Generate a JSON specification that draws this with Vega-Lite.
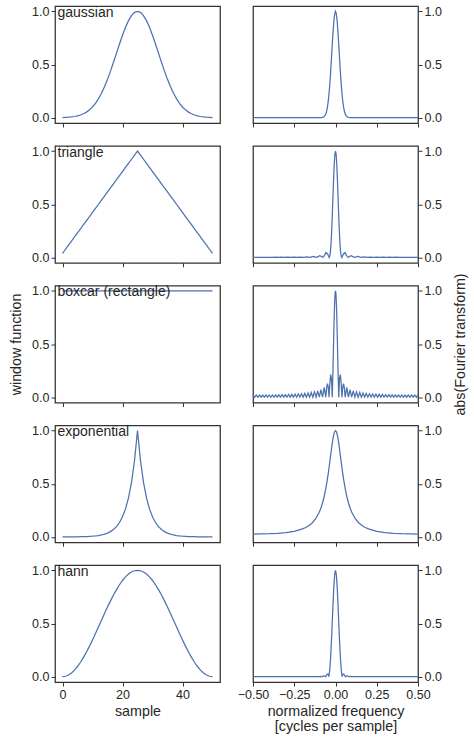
{
  "$schema": "https://vega.github.io/schema/vega-lite/v6.json",
  "padding": {"left": 8, "top": 4, "right": 4, "bottom": 4},
  "datasets": {
    "gaussian_window": [
      {"sample":0,"value":0.0017},{"sample":1,"value":0.0028},{"sample":2,"value":0.0045},{"sample":3,"value":0.0072},{"sample":4,"value":0.0111},
      {"sample":5,"value":0.0169},{"sample":6,"value":0.0251},{"sample":7,"value":0.0367},{"sample":8,"value":0.0524},{"sample":9,"value":0.0734},
      {"sample":10,"value":0.1007},{"sample":11,"value":0.1353},{"sample":12,"value":0.1783},{"sample":13,"value":0.2301},{"sample":14,"value":0.2909},
      {"sample":15,"value":0.3604},{"sample":16,"value":0.4376},{"sample":17,"value":0.5205},{"sample":18,"value":0.6065},{"sample":19,"value":0.6926},
      {"sample":20,"value":0.7748},{"sample":21,"value":0.8494},{"sample":22,"value":0.9123},{"sample":23,"value":0.96},{"sample":24,"value":0.9899},
      {"sample":25,"value":1},
      {"sample":26,"value":0.9899},{"sample":27,"value":0.96},{"sample":28,"value":0.9123},{"sample":29,"value":0.8494},{"sample":30,"value":0.7748},
      {"sample":31,"value":0.6926},{"sample":32,"value":0.6065},{"sample":33,"value":0.5205},{"sample":34,"value":0.4376},{"sample":35,"value":0.3604},
      {"sample":36,"value":0.2909},{"sample":37,"value":0.2301},{"sample":38,"value":0.1783},{"sample":39,"value":0.1353},{"sample":40,"value":0.1007},
      {"sample":41,"value":0.0734},{"sample":42,"value":0.0524},{"sample":43,"value":0.0367},{"sample":44,"value":0.0251},{"sample":45,"value":0.0169},
      {"sample":46,"value":0.0111},{"sample":47,"value":0.0072},{"sample":48,"value":0.0045},{"sample":49,"value":0.0028},{"sample":50,"value":0.0017}
    ],
    "triangle_window": [
      {"sample":0,"value":0.0385},{"sample":1,"value":0.0769},{"sample":2,"value":0.1154},{"sample":3,"value":0.1538},{"sample":4,"value":0.1923},
      {"sample":5,"value":0.2308},{"sample":6,"value":0.2692},{"sample":7,"value":0.3077},{"sample":8,"value":0.3462},{"sample":9,"value":0.3846},
      {"sample":10,"value":0.4231},{"sample":11,"value":0.4615},{"sample":12,"value":0.5},{"sample":13,"value":0.5385},{"sample":14,"value":0.5769},
      {"sample":15,"value":0.6154},{"sample":16,"value":0.6538},{"sample":17,"value":0.6923},{"sample":18,"value":0.7308},{"sample":19,"value":0.7692},
      {"sample":20,"value":0.8077},{"sample":21,"value":0.8462},{"sample":22,"value":0.8846},{"sample":23,"value":0.9231},{"sample":24,"value":0.9615},
      {"sample":25,"value":1},
      {"sample":26,"value":0.9615},{"sample":27,"value":0.9231},{"sample":28,"value":0.8846},{"sample":29,"value":0.8462},{"sample":30,"value":0.8077},
      {"sample":31,"value":0.7692},{"sample":32,"value":0.7308},{"sample":33,"value":0.6923},{"sample":34,"value":0.6538},{"sample":35,"value":0.6154},
      {"sample":36,"value":0.5769},{"sample":37,"value":0.5385},{"sample":38,"value":0.5},{"sample":39,"value":0.4615},{"sample":40,"value":0.4231},
      {"sample":41,"value":0.3846},{"sample":42,"value":0.3462},{"sample":43,"value":0.3077},{"sample":44,"value":0.2692},{"sample":45,"value":0.2308},
      {"sample":46,"value":0.1923},{"sample":47,"value":0.1538},{"sample":48,"value":0.1154},{"sample":49,"value":0.0769},{"sample":50,"value":0.0385}
    ],
    "boxcar_window": [
      {"sample":0,"value":1},{"sample":1,"value":1},{"sample":2,"value":1},{"sample":3,"value":1},{"sample":4,"value":1},
      {"sample":5,"value":1},{"sample":6,"value":1},{"sample":7,"value":1},{"sample":8,"value":1},{"sample":9,"value":1},
      {"sample":10,"value":1},{"sample":11,"value":1},{"sample":12,"value":1},{"sample":13,"value":1},{"sample":14,"value":1},
      {"sample":15,"value":1},{"sample":16,"value":1},{"sample":17,"value":1},{"sample":18,"value":1},{"sample":19,"value":1},
      {"sample":20,"value":1},{"sample":21,"value":1},{"sample":22,"value":1},{"sample":23,"value":1},{"sample":24,"value":1},
      {"sample":25,"value":1},
      {"sample":26,"value":1},{"sample":27,"value":1},{"sample":28,"value":1},{"sample":29,"value":1},{"sample":30,"value":1},
      {"sample":31,"value":1},{"sample":32,"value":1},{"sample":33,"value":1},{"sample":34,"value":1},{"sample":35,"value":1},
      {"sample":36,"value":1},{"sample":37,"value":1},{"sample":38,"value":1},{"sample":39,"value":1},{"sample":40,"value":1},
      {"sample":41,"value":1},{"sample":42,"value":1},{"sample":43,"value":1},{"sample":44,"value":1},{"sample":45,"value":1},
      {"sample":46,"value":1},{"sample":47,"value":1},{"sample":48,"value":1},{"sample":49,"value":1},{"sample":50,"value":1}
    ],
    "exponential_window": [
      {"sample":0,"value":0.0002},{"sample":1,"value":0.0003},{"sample":2,"value":0.0005},{"sample":3,"value":0.0007},{"sample":4,"value":0.0009},
      {"sample":5,"value":0.0013},{"sample":6,"value":0.0018},{"sample":7,"value":0.0025},{"sample":8,"value":0.0035},{"sample":9,"value":0.0048},
      {"sample":10,"value":0.0067},{"sample":11,"value":0.0094},{"sample":12,"value":0.0131},{"sample":13,"value":0.0183},{"sample":14,"value":0.0256},
      {"sample":15,"value":0.0357},{"sample":16,"value":0.0498},{"sample":17,"value":0.0695},{"sample":18,"value":0.097},{"sample":19,"value":0.1353},
      {"sample":20,"value":0.1889},{"sample":21,"value":0.2636},{"sample":22,"value":0.3679},{"sample":23,"value":0.5134},{"sample":24,"value":0.7165},
      {"sample":25,"value":1},
      {"sample":26,"value":0.7165},{"sample":27,"value":0.5134},{"sample":28,"value":0.3679},{"sample":29,"value":0.2636},{"sample":30,"value":0.1889},
      {"sample":31,"value":0.1353},{"sample":32,"value":0.097},{"sample":33,"value":0.0695},{"sample":34,"value":0.0498},{"sample":35,"value":0.0357},
      {"sample":36,"value":0.0256},{"sample":37,"value":0.0183},{"sample":38,"value":0.0131},{"sample":39,"value":0.0094},{"sample":40,"value":0.0067},
      {"sample":41,"value":0.0048},{"sample":42,"value":0.0035},{"sample":43,"value":0.0025},{"sample":44,"value":0.0018},{"sample":45,"value":0.0013},
      {"sample":46,"value":0.0009},{"sample":47,"value":0.0007},{"sample":48,"value":0.0005},{"sample":49,"value":0.0003},{"sample":50,"value":0.0002}
    ],
    "hann_window": [
      {"sample":0,"value":0},{"sample":1,"value":0.0039},{"sample":2,"value":0.0157},{"sample":3,"value":0.0351},{"sample":4,"value":0.0618},
      {"sample":5,"value":0.0955},{"sample":6,"value":0.1355},{"sample":7,"value":0.1813},{"sample":8,"value":0.2321},{"sample":9,"value":0.2871},
      {"sample":10,"value":0.3455},{"sample":11,"value":0.4063},{"sample":12,"value":0.4686},{"sample":13,"value":0.5314},{"sample":14,"value":0.5937},
      {"sample":15,"value":0.6545},{"sample":16,"value":0.7129},{"sample":17,"value":0.7679},{"sample":18,"value":0.8187},{"sample":19,"value":0.8645},
      {"sample":20,"value":0.9045},{"sample":21,"value":0.9382},{"sample":22,"value":0.9649},{"sample":23,"value":0.9843},{"sample":24,"value":0.9961},
      {"sample":25,"value":1},
      {"sample":26,"value":0.9961},{"sample":27,"value":0.9843},{"sample":28,"value":0.9649},{"sample":29,"value":0.9382},{"sample":30,"value":0.9045},
      {"sample":31,"value":0.8645},{"sample":32,"value":0.8187},{"sample":33,"value":0.7679},{"sample":34,"value":0.7129},{"sample":35,"value":0.6545},
      {"sample":36,"value":0.5937},{"sample":37,"value":0.5314},{"sample":38,"value":0.4686},{"sample":39,"value":0.4063},{"sample":40,"value":0.3455},
      {"sample":41,"value":0.2871},{"sample":42,"value":0.2321},{"sample":43,"value":0.1813},{"sample":44,"value":0.1355},{"sample":45,"value":0.0955},
      {"sample":46,"value":0.0618},{"sample":47,"value":0.0351},{"sample":48,"value":0.0157},{"sample":49,"value":0.0039},{"sample":50,"value":0}
    ],
    "gaussian_ft": [
      {"frequency":-0.5,"amplitude":0},{"frequency":-0.1,"amplitude":0.0001},{"frequency":-0.09,"amplitude":0.0004},{"frequency":-0.08,"amplitude":0.002},
      {"frequency":-0.075,"amplitude":0.0043},{"frequency":-0.07,"amplitude":0.0087},{"frequency":-0.065,"amplitude":0.0168},{"frequency":-0.06,"amplitude":0.0307},
      {"frequency":-0.055,"amplitude":0.0536},{"frequency":-0.05,"amplitude":0.0891},{"frequency":-0.045,"amplitude":0.1411},{"frequency":-0.04,"amplitude":0.2128},
      {"frequency":-0.035,"amplitude":0.3058},{"frequency":-0.03,"amplitude":0.4188},{"frequency":-0.025,"amplitude":0.5463},{"frequency":-0.02,"amplitude":0.6792},
      {"frequency":-0.015,"amplitude":0.8044},{"frequency":-0.01,"amplitude":0.9078},{"frequency":-0.005,"amplitude":0.9761},{"frequency":0,"amplitude":1},
      {"frequency":0.005,"amplitude":0.9761},{"frequency":0.01,"amplitude":0.9078},{"frequency":0.015,"amplitude":0.8044},{"frequency":0.02,"amplitude":0.6792},
      {"frequency":0.025,"amplitude":0.5463},{"frequency":0.03,"amplitude":0.4188},{"frequency":0.035,"amplitude":0.3058},{"frequency":0.04,"amplitude":0.2128},
      {"frequency":0.045,"amplitude":0.1411},{"frequency":0.05,"amplitude":0.0891},{"frequency":0.055,"amplitude":0.0536},{"frequency":0.06,"amplitude":0.0307},
      {"frequency":0.065,"amplitude":0.0168},{"frequency":0.07,"amplitude":0.0087},{"frequency":0.075,"amplitude":0.0043},{"frequency":0.08,"amplitude":0.002},
      {"frequency":0.09,"amplitude":0.0004},{"frequency":0.1,"amplitude":0.0001},{"frequency":0.5,"amplitude":0}
    ],
    "triangle_ft": [
      {"frequency":-0.5,"amplitude":0},{"frequency":-0.48077,"amplitude":0.0015},{"frequency":-0.46154,"amplitude":0},{"frequency":-0.44231,"amplitude":0.0015},
      {"frequency":-0.42308,"amplitude":0},{"frequency":-0.40385,"amplitude":0.0016},{"frequency":-0.38462,"amplitude":0},{"frequency":-0.36538,"amplitude":0.0018},
      {"frequency":-0.34615,"amplitude":0},{"frequency":-0.32692,"amplitude":0.002},{"frequency":-0.30769,"amplitude":0},{"frequency":-0.28846,"amplitude":0.0024},
      {"frequency":-0.26923,"amplitude":0},{"frequency":-0.25,"amplitude":0.003},{"frequency":-0.23077,"amplitude":0},{"frequency":-0.21154,"amplitude":0.0039},
      {"frequency":-0.19231,"amplitude":0},{"frequency":-0.17308,"amplitude":0.0055},{"frequency":-0.15385,"amplitude":0},{"frequency":-0.13462,"amplitude":0.0088},
      {"frequency":-0.11538,"amplitude":0},{"frequency":-0.10577,"amplitude":0.007},{"frequency":-0.09615,"amplitude":0.0167},{"frequency":-0.08654,"amplitude":0.0103},
      {"frequency":-0.07692,"amplitude":0},{"frequency":-0.06731,"amplitude":0.0168},{"frequency":-0.05769,"amplitude":0.0455},{"frequency":-0.04808,"amplitude":0.0327},
      {"frequency":-0.03846,"amplitude":0},{"frequency":-0.03462,"amplitude":0.012},{"frequency":-0.03077,"amplitude":0.0549},{"frequency":-0.02692,"amplitude":0.1357},
      {"frequency":-0.02308,"amplitude":0.255},{"frequency":-0.01923,"amplitude":0.4058},{"frequency":-0.01538,"amplitude":0.5732},{"frequency":-0.01154,"amplitude":0.7372},
      {"frequency":-0.00769,"amplitude":0.8753},{"frequency":-0.00385,"amplitude":0.9676},{"frequency":0,"amplitude":1},
      {"frequency":0.00385,"amplitude":0.9676},{"frequency":0.00769,"amplitude":0.8753},{"frequency":0.01154,"amplitude":0.7372},{"frequency":0.01538,"amplitude":0.5732},
      {"frequency":0.01923,"amplitude":0.4058},{"frequency":0.02308,"amplitude":0.255},{"frequency":0.02692,"amplitude":0.1357},{"frequency":0.03077,"amplitude":0.0549},
      {"frequency":0.03462,"amplitude":0.012},{"frequency":0.03846,"amplitude":0},{"frequency":0.04808,"amplitude":0.0327},{"frequency":0.05769,"amplitude":0.0455},
      {"frequency":0.06731,"amplitude":0.0168},{"frequency":0.07692,"amplitude":0},{"frequency":0.08654,"amplitude":0.0103},{"frequency":0.09615,"amplitude":0.0167},
      {"frequency":0.10577,"amplitude":0.007},{"frequency":0.11538,"amplitude":0},{"frequency":0.13462,"amplitude":0.0088},{"frequency":0.15385,"amplitude":0},
      {"frequency":0.17308,"amplitude":0.0055},{"frequency":0.19231,"amplitude":0},{"frequency":0.21154,"amplitude":0.0039},{"frequency":0.23077,"amplitude":0},
      {"frequency":0.25,"amplitude":0.003},{"frequency":0.26923,"amplitude":0},{"frequency":0.28846,"amplitude":0.0024},{"frequency":0.30769,"amplitude":0},
      {"frequency":0.32692,"amplitude":0.002},{"frequency":0.34615,"amplitude":0},{"frequency":0.36538,"amplitude":0.0018},{"frequency":0.38462,"amplitude":0},
      {"frequency":0.40385,"amplitude":0.0016},{"frequency":0.42308,"amplitude":0},{"frequency":0.44231,"amplitude":0.0015},{"frequency":0.46154,"amplitude":0},
      {"frequency":0.48077,"amplitude":0.0015},{"frequency":0.5,"amplitude":0}
    ],
    "boxcar_ft": [
      {"frequency":-0.5,"amplitude":0.0196},{"frequency":-0.4902,"amplitude":0},{"frequency":-0.48039,"amplitude":0.0197},{"frequency":-0.47059,"amplitude":0},
      {"frequency":-0.46078,"amplitude":0.0198},{"frequency":-0.45098,"amplitude":0},{"frequency":-0.44118,"amplitude":0.02},{"frequency":-0.43137,"amplitude":0},
      {"frequency":-0.42157,"amplitude":0.0202},{"frequency":-0.41176,"amplitude":0},{"frequency":-0.40196,"amplitude":0.0206},{"frequency":-0.39216,"amplitude":0},
      {"frequency":-0.38235,"amplitude":0.021},{"frequency":-0.37255,"amplitude":0},{"frequency":-0.36275,"amplitude":0.0216},{"frequency":-0.35294,"amplitude":0},
      {"frequency":-0.34314,"amplitude":0.0223},{"frequency":-0.33333,"amplitude":0},{"frequency":-0.32353,"amplitude":0.0231},{"frequency":-0.31373,"amplitude":0},
      {"frequency":-0.30392,"amplitude":0.024},{"frequency":-0.29412,"amplitude":0},{"frequency":-0.28431,"amplitude":0.0252},{"frequency":-0.27451,"amplitude":0},
      {"frequency":-0.26471,"amplitude":0.0265},{"frequency":-0.2549,"amplitude":0},{"frequency":-0.2451,"amplitude":0.0282},{"frequency":-0.23529,"amplitude":0},
      {"frequency":-0.22549,"amplitude":0.0301},{"frequency":-0.21569,"amplitude":0},{"frequency":-0.20588,"amplitude":0.0325},{"frequency":-0.19608,"amplitude":0},
      {"frequency":-0.18627,"amplitude":0.0355},{"frequency":-0.17647,"amplitude":0},{"frequency":-0.16667,"amplitude":0.0392},{"frequency":-0.15686,"amplitude":0},
      {"frequency":-0.14706,"amplitude":0.044},{"frequency":-0.13725,"amplitude":0},{"frequency":-0.12745,"amplitude":0.0503},{"frequency":-0.11765,"amplitude":0},
      {"frequency":-0.10784,"amplitude":0.059},{"frequency":-0.09804,"amplitude":0},{"frequency":-0.08824,"amplitude":0.0717},{"frequency":-0.07843,"amplitude":0},
      {"frequency":-0.06863,"amplitude":0.0917},{"frequency":-0.05882,"amplitude":0},{"frequency":-0.05392,"amplitude":0.0822},{"frequency":-0.04902,"amplitude":0.1278},
      {"frequency":-0.04412,"amplitude":0.1004},{"frequency":-0.03922,"amplitude":0},{"frequency":-0.03431,"amplitude":0.1289},{"frequency":-0.02941,"amplitude":0.2125},
      {"frequency":-0.02451,"amplitude":0.1802},{"frequency":-0.01961,"amplitude":0},{"frequency":-0.01765,"amplitude":0.1093},{"frequency":-0.01569,"amplitude":0.2339},
      {"frequency":-0.01373,"amplitude":0.3679},{"frequency":-0.01176,"amplitude":0.5046},{"frequency":-0.0098,"amplitude":0.6366},{"frequency":-0.00784,"amplitude":0.7569},
      {"frequency":-0.00588,"amplitude":0.8584},{"frequency":-0.00392,"amplitude":0.9355},{"frequency":-0.00196,"amplitude":0.9836},{"frequency":0,"amplitude":1},
      {"frequency":0.00196,"amplitude":0.9836},{"frequency":0.00392,"amplitude":0.9355},{"frequency":0.00588,"amplitude":0.8584},{"frequency":0.00784,"amplitude":0.7569},
      {"frequency":0.0098,"amplitude":0.6366},{"frequency":0.01176,"amplitude":0.5046},{"frequency":0.01373,"amplitude":0.3679},{"frequency":0.01569,"amplitude":0.2339},
      {"frequency":0.01765,"amplitude":0.1093},{"frequency":0.01961,"amplitude":0},{"frequency":0.02451,"amplitude":0.1802},{"frequency":0.02941,"amplitude":0.2125},
      {"frequency":0.03431,"amplitude":0.1289},{"frequency":0.03922,"amplitude":0},{"frequency":0.04412,"amplitude":0.1004},{"frequency":0.04902,"amplitude":0.1278},
      {"frequency":0.05392,"amplitude":0.0822},{"frequency":0.05882,"amplitude":0},{"frequency":0.06863,"amplitude":0.0917},{"frequency":0.07843,"amplitude":0},
      {"frequency":0.08824,"amplitude":0.0717},{"frequency":0.09804,"amplitude":0},{"frequency":0.10784,"amplitude":0.059},{"frequency":0.11765,"amplitude":0},
      {"frequency":0.12745,"amplitude":0.0503},{"frequency":0.13725,"amplitude":0},{"frequency":0.14706,"amplitude":0.044},{"frequency":0.15686,"amplitude":0},
      {"frequency":0.16667,"amplitude":0.0392},{"frequency":0.17647,"amplitude":0},{"frequency":0.18627,"amplitude":0.0355},{"frequency":0.19608,"amplitude":0},
      {"frequency":0.20588,"amplitude":0.0325},{"frequency":0.21569,"amplitude":0},{"frequency":0.22549,"amplitude":0.0301},{"frequency":0.23529,"amplitude":0},
      {"frequency":0.2451,"amplitude":0.0282},{"frequency":0.2549,"amplitude":0},{"frequency":0.26471,"amplitude":0.0265},{"frequency":0.27451,"amplitude":0},
      {"frequency":0.28431,"amplitude":0.0252},{"frequency":0.29412,"amplitude":0},{"frequency":0.30392,"amplitude":0.024},{"frequency":0.31373,"amplitude":0},
      {"frequency":0.32353,"amplitude":0.0231},{"frequency":0.33333,"amplitude":0},{"frequency":0.34314,"amplitude":0.0223},{"frequency":0.35294,"amplitude":0},
      {"frequency":0.36275,"amplitude":0.0216},{"frequency":0.37255,"amplitude":0},{"frequency":0.38235,"amplitude":0.021},{"frequency":0.39216,"amplitude":0},
      {"frequency":0.40196,"amplitude":0.0206},{"frequency":0.41176,"amplitude":0},{"frequency":0.42157,"amplitude":0.0202},{"frequency":0.43137,"amplitude":0},
      {"frequency":0.44118,"amplitude":0.02},{"frequency":0.45098,"amplitude":0},{"frequency":0.46078,"amplitude":0.0198},{"frequency":0.47059,"amplitude":0},
      {"frequency":0.48039,"amplitude":0.0197},{"frequency":0.4902,"amplitude":0},{"frequency":0.5,"amplitude":0.0196}
    ],
    "exponential_ft": [
      {"frequency":-0.5,"amplitude":0.0273},{"frequency":-0.45,"amplitude":0.0279},{"frequency":-0.4,"amplitude":0.0301},{"frequency":-0.35,"amplitude":0.0341},
      {"frequency":-0.3,"amplitude":0.0411},{"frequency":-0.25,"amplitude":0.0531},{"frequency":-0.2,"amplitude":0.0751},{"frequency":-0.18,"amplitude":0.089},
      {"frequency":-0.16,"amplitude":0.1078},{"frequency":-0.14,"amplitude":0.1339},{"frequency":-0.12,"amplitude":0.1714},{"frequency":-0.1,"amplitude":0.227},
      {"frequency":-0.09,"amplitude":0.2648},{"frequency":-0.08,"amplitude":0.3119},{"frequency":-0.07,"amplitude":0.3707},{"frequency":-0.06,"amplitude":0.444},
      {"frequency":-0.05,"amplitude":0.5339},{"frequency":-0.045,"amplitude":0.5854},{"frequency":-0.04,"amplitude":0.6409},{"frequency":-0.035,"amplitude":0.6995},
      {"frequency":-0.03,"amplitude":0.7599},{"frequency":-0.025,"amplitude":0.82},{"frequency":-0.02,"amplitude":0.8767},{"frequency":-0.015,"amplitude":0.9267},
      {"frequency":-0.01,"amplitude":0.966},{"frequency":-0.005,"amplitude":0.9913},{"frequency":0,"amplitude":1},
      {"frequency":0.005,"amplitude":0.9913},{"frequency":0.01,"amplitude":0.966},{"frequency":0.015,"amplitude":0.9267},{"frequency":0.02,"amplitude":0.8767},
      {"frequency":0.025,"amplitude":0.82},{"frequency":0.03,"amplitude":0.7599},{"frequency":0.035,"amplitude":0.6995},{"frequency":0.04,"amplitude":0.6409},
      {"frequency":0.045,"amplitude":0.5854},{"frequency":0.05,"amplitude":0.5339},{"frequency":0.06,"amplitude":0.444},{"frequency":0.07,"amplitude":0.3707},
      {"frequency":0.08,"amplitude":0.3119},{"frequency":0.09,"amplitude":0.2648},{"frequency":0.1,"amplitude":0.227},{"frequency":0.12,"amplitude":0.1714},
      {"frequency":0.14,"amplitude":0.1339},{"frequency":0.16,"amplitude":0.1078},{"frequency":0.18,"amplitude":0.089},{"frequency":0.2,"amplitude":0.0751},
      {"frequency":0.25,"amplitude":0.0531},{"frequency":0.3,"amplitude":0.0411},{"frequency":0.35,"amplitude":0.0341},{"frequency":0.4,"amplitude":0.0301},
      {"frequency":0.45,"amplitude":0.0279},{"frequency":0.5,"amplitude":0.0273}
    ],
    "hann_ft": [
      {"frequency":-0.5,"amplitude":0},{"frequency":-0.1,"amplitude":0},{"frequency":-0.09,"amplitude":0.0037},{"frequency":-0.08,"amplitude":0},
      {"frequency":-0.07,"amplitude":0.0081},{"frequency":-0.06,"amplitude":0},{"frequency":-0.055,"amplitude":0.0125},{"frequency":-0.05,"amplitude":0.0243},
      {"frequency":-0.045,"amplitude":0.0246},{"frequency":-0.04,"amplitude":0},{"frequency":-0.035,"amplitude":0.0624},{"frequency":-0.03,"amplitude":0.1698},
      {"frequency":-0.025,"amplitude":0.3201},{"frequency":-0.02,"amplitude":0.5},{"frequency":-0.015,"amplitude":0.686},{"frequency":-0.01,"amplitude":0.8488},
      {"frequency":-0.005,"amplitude":0.9603},{"frequency":0,"amplitude":1},
      {"frequency":0.005,"amplitude":0.9603},{"frequency":0.01,"amplitude":0.8488},{"frequency":0.015,"amplitude":0.686},{"frequency":0.02,"amplitude":0.5},
      {"frequency":0.025,"amplitude":0.3201},{"frequency":0.03,"amplitude":0.1698},{"frequency":0.035,"amplitude":0.0624},{"frequency":0.04,"amplitude":0},
      {"frequency":0.045,"amplitude":0.0246},{"frequency":0.05,"amplitude":0.0243},{"frequency":0.055,"amplitude":0.0125},{"frequency":0.06,"amplitude":0},
      {"frequency":0.07,"amplitude":0.0081},{"frequency":0.08,"amplitude":0},{"frequency":0.09,"amplitude":0.0037},{"frequency":0.1,"amplitude":0},
      {"frequency":0.5,"amplitude":0}
    ]
  },
  "columns": 2,
  "spacing": {"row": 22.75, "column": 33},
  "bounds": "flush",
  "concat": [
    {"width": 165, "height": 117, "data": {"name": "gaussian_window"}, "title": "gaussian", "mark": "line",
     "encoding": {
       "x": {"field": "sample", "type": "quantitative", "scale": {"domain": [-2.5, 52.5], "nice": false}, "axis": {"values": [0, 20, 40], "labels": false, "title": null}},
       "y": {"field": "value", "type": "quantitative", "scale": {"domain": [-0.05, 1.05], "nice": false}, "axis": {"values": [0, 0.5, 1], "format": ".1f", "title": null}}}},
    {"width": 165, "height": 117, "data": {"name": "gaussian_ft"}, "mark": "line",
     "encoding": {
       "x": {"field": "frequency", "type": "quantitative", "scale": {"domain": [-0.5, 0.5], "nice": false}, "axis": {"values": [-0.5, -0.25, 0, 0.25, 0.5], "labels": false, "title": null}},
       "y": {"field": "amplitude", "type": "quantitative", "scale": {"domain": [-0.05, 1.05], "nice": false}, "axis": {"orient": "right", "values": [0, 0.5, 1], "format": ".1f", "title": null}}}},
    {"width": 165, "height": 117, "data": {"name": "triangle_window"}, "title": "triangle", "mark": "line",
     "encoding": {
       "x": {"field": "sample", "type": "quantitative", "scale": {"domain": [-2.5, 52.5], "nice": false}, "axis": {"values": [0, 20, 40], "labels": false, "title": null}},
       "y": {"field": "value", "type": "quantitative", "scale": {"domain": [-0.05, 1.05], "nice": false}, "axis": {"values": [0, 0.5, 1], "format": ".1f", "title": null}}}},
    {"width": 165, "height": 117, "data": {"name": "triangle_ft"}, "mark": "line",
     "encoding": {
       "x": {"field": "frequency", "type": "quantitative", "scale": {"domain": [-0.5, 0.5], "nice": false}, "axis": {"values": [-0.5, -0.25, 0, 0.25, 0.5], "labels": false, "title": null}},
       "y": {"field": "amplitude", "type": "quantitative", "scale": {"domain": [-0.05, 1.05], "nice": false}, "axis": {"orient": "right", "values": [0, 0.5, 1], "format": ".1f", "title": null}}}},
    {"width": 165, "height": 117, "data": {"name": "boxcar_window"}, "title": "boxcar (rectangle)", "mark": "line",
     "encoding": {
       "x": {"field": "sample", "type": "quantitative", "scale": {"domain": [-2.5, 52.5], "nice": false}, "axis": {"values": [0, 20, 40], "labels": false, "title": null}},
       "y": {"field": "value", "type": "quantitative", "scale": {"domain": [-0.05, 1.05], "nice": false}, "axis": {"values": [0, 0.5, 1], "format": ".1f", "title": "window function"}}}},
    {"width": 165, "height": 117, "data": {"name": "boxcar_ft"}, "mark": "line",
     "encoding": {
       "x": {"field": "frequency", "type": "quantitative", "scale": {"domain": [-0.5, 0.5], "nice": false}, "axis": {"values": [-0.5, -0.25, 0, 0.25, 0.5], "labels": false, "title": null}},
       "y": {"field": "amplitude", "type": "quantitative", "scale": {"domain": [-0.05, 1.05], "nice": false}, "axis": {"orient": "right", "values": [0, 0.5, 1], "format": ".1f", "title": "abs(Fourier transform)", "titleAngle": 270, "titleBaseline": "top", "titlePadding": 12}}}},
    {"width": 165, "height": 117, "data": {"name": "exponential_window"}, "title": "exponential", "mark": "line",
     "encoding": {
       "x": {"field": "sample", "type": "quantitative", "scale": {"domain": [-2.5, 52.5], "nice": false}, "axis": {"values": [0, 20, 40], "labels": false, "title": null}},
       "y": {"field": "value", "type": "quantitative", "scale": {"domain": [-0.05, 1.05], "nice": false}, "axis": {"values": [0, 0.5, 1], "format": ".1f", "title": null}}}},
    {"width": 165, "height": 117, "data": {"name": "exponential_ft"}, "mark": "line",
     "encoding": {
       "x": {"field": "frequency", "type": "quantitative", "scale": {"domain": [-0.5, 0.5], "nice": false}, "axis": {"values": [-0.5, -0.25, 0, 0.25, 0.5], "labels": false, "title": null}},
       "y": {"field": "amplitude", "type": "quantitative", "scale": {"domain": [-0.05, 1.05], "nice": false}, "axis": {"orient": "right", "values": [0, 0.5, 1], "format": ".1f", "title": null}}}},
    {"width": 165, "height": 117, "data": {"name": "hann_window"}, "title": "hann", "mark": "line",
     "encoding": {
       "x": {"field": "sample", "type": "quantitative", "scale": {"domain": [-2.5, 52.5], "nice": false}, "axis": {"values": [0, 20, 40], "title": "sample"}},
       "y": {"field": "value", "type": "quantitative", "scale": {"domain": [-0.05, 1.05], "nice": false}, "axis": {"values": [0, 0.5, 1], "format": ".1f", "title": null}}}},
    {"width": 165, "height": 117, "data": {"name": "hann_ft"}, "mark": "line",
     "encoding": {
       "x": {"field": "frequency", "type": "quantitative", "scale": {"domain": [-0.5, 0.5], "nice": false}, "axis": {"values": [-0.5, -0.25, 0, 0.25, 0.5], "format": ".2f", "title": ["normalized frequency", "[cycles per sample]"]}},
       "y": {"field": "amplitude", "type": "quantitative", "scale": {"domain": [-0.05, 1.05], "nice": false}, "axis": {"orient": "right", "values": [0, 0.5, 1], "format": ".1f", "title": null}}}}
  ],
  "config": {
    "font": "Liberation Sans",
    "view": {"stroke": "#333333", "strokeWidth": 1.25},
    "line": {"color": "#4c72b0", "strokeWidth": 1.25},
    "axis": {
      "domain": false, "grid": false,
      "tickColor": "#333333", "tickSize": 4, "tickWidth": 1,
      "labelFontSize": 12.5, "labelColor": "#262626", "labelPadding": 2, "labelFlush": false,
      "titleFontSize": 14.3, "titleFontWeight": "normal", "titleColor": "#262626", "titlePadding": 4, "titleLineHeight": 14.5
    },
    "axisY": {"titlePadding": 8},
    "title": {"anchor": "start", "frame": "group", "fontSize": 14, "fontWeight": "normal", "color": "#262626", "baseline": "alphabetic", "offset": -14.5, "dx": 2.5}
  }
}
